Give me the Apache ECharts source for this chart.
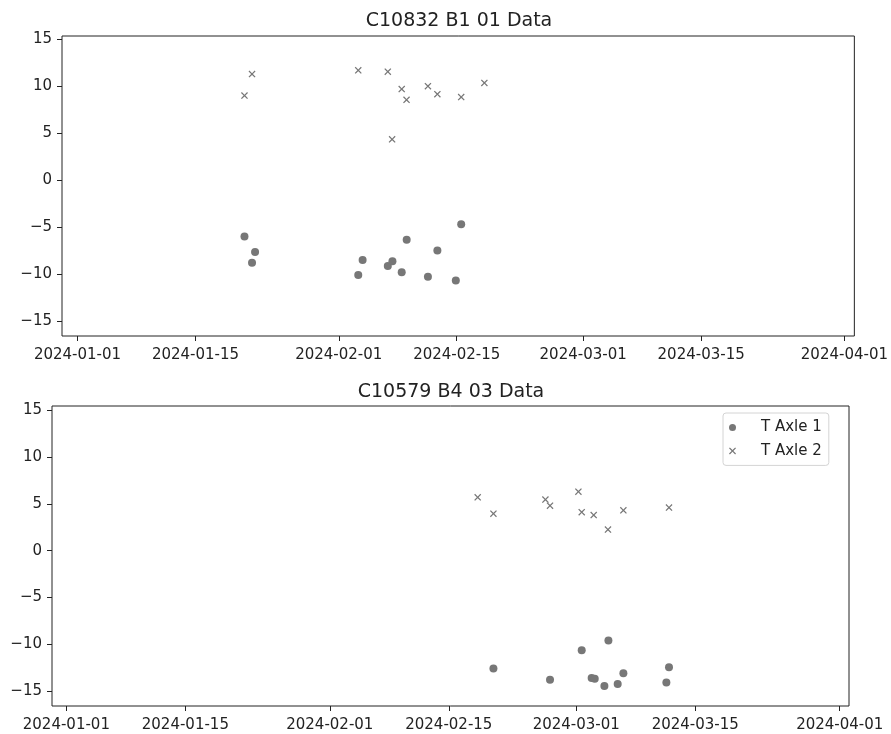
<!DOCTYPE html>
<html><head><meta charset="utf-8">
<script src="https://cdn.jsdelivr.net/npm/echarts@6/dist/echarts.min.js"></script>
<style>html,body{margin:0;padding:0;background:#fff}#c{width:891px;height:734px}</style>
</head><body><div id="c"></div>
<script>
// ---- data ----
const titles = ['C10832 B1 01 Data', 'C10579 B4 03 Data'];
const seriesNames = ['T Axle 1', 'T Axle 2'];
const xTickLabels = ['2024-01-01','2024-01-15','2024-02-01','2024-02-15','2024-03-01','2024-03-15','2024-04-01'];
const yTickValues = [-15, -10, -5, 0, 5, 10, 15];

const topAxle1Dates = ['2024-01-20T19:30','2024-01-21T17:00','2024-01-22T01:40','2024-02-03T07:30','2024-02-03T19:55','2024-02-06T19:40','2024-02-07T08:50','2024-02-08T11:15','2024-02-09T01:25','2024-02-11T13:55','2024-02-12T16:50','2024-02-14T21:20','2024-02-15T12:40'];
const topAxle1Values = [-6.0, -8.8, -7.65, -10.1, -8.5, -9.15, -8.65, -9.8, -6.35, -10.3, -7.5, -10.7, -4.7];
const topAxle2Dates = ['2024-01-20T19:30','2024-01-21T17:00','2024-02-03T07:30','2024-02-06T19:40','2024-02-07T07:55','2024-02-08T11:15','2024-02-09T01:00','2024-02-11T13:55','2024-02-12T16:50','2024-02-15T12:40','2024-02-18T06:40'];
const topAxle2Values = [9.0, 11.3, 11.7, 11.55, 4.35, 9.7, 8.55, 10.0, 9.15, 8.85, 10.35];

const botAxle1Dates = ['2024-02-20T06:00','2024-02-26T21:50','2024-03-01T15:20','2024-03-02T19:25','2024-03-03T04:05','2024-03-04T07:25','2024-03-04T18:45','2024-03-05T20:55','2024-03-06T13:00','2024-03-11T14:25','2024-03-11T21:50'];
const botAxle1Values = [-12.6, -13.8, -10.65, -13.6, -13.7, -14.45, -9.6, -14.25, -13.1, -14.1, -12.45];
const botAxle2Dates = ['2024-02-18T09:35','2024-02-20T06:00','2024-02-26T08:50','2024-02-26T21:50','2024-03-01T06:00','2024-03-01T15:20','2024-03-03T01:10','2024-03-04T17:30','2024-03-06T13:00','2024-03-11T21:50'];
const botAxle2Values = [5.7, 3.95, 5.45, 4.8, 6.3, 4.1, 3.8, 2.25, 4.3, 4.6];

// axis extents (days from 2024-01-01 for x, values for y)
const xExtentDays = [[-1.84, 92.18], [-1.69, 92.09]];
const yExtent = [[-16.6, 15.35], [-16.6, 15.45]];

// ---- helpers ----
function toMs(s) {
  const m = s.match(/(\d+)-(\d+)-(\d+)(?:T(\d+):(\d+))?/);
  return Date.UTC(+m[1], +m[2] - 1, +m[3], +(m[4] || 0), +(m[5] || 0));
}
const DAY = 86400000;
const base = toMs('2024-01-01');
const xTickMs = xTickLabels.map(toMs);
function pad(n) { return (n < 10 ? '0' : '') + n; }
function fmtDate(v) {
  const d = new Date(v);
  return d.getUTCFullYear() + '-' + pad(d.getUTCMonth() + 1) + '-' + pad(d.getUTCDate());
}
function fmtY(v) { return String(v).replace('-', '\u2212'); }
function zip(ds, vs) { return ds.map((d, i) => [toMs(d), vs[i]]); }

const CROSS = 'path://M1.25,0L5,3.75L8.75,0L10,1.25L6.25,5L10,8.75L8.75,10L5,6.25L1.25,10L0,8.75L3.75,5L0,1.25Z';
const MARK = '#777777';
const TXT = '#222222';
const FONT = 'DejaVu Sans';

const grids = [
  { left: 62, top: 36, width: 796, height: 300 },
  { left: 52, top: 406, width: 797, height: 300 }
];
const titleCenters = [[459, 12], [451, 383]];

const option = {
  animation: false,
  backgroundColor: '#ffffff',
  textStyle: { fontFamily: FONT },
  title: titles.map((t, i) => ({
    text: t, left: titleCenters[i][0], top: titleCenters[i][1], textAlign: 'center', padding: 0,
    textStyle: { fontSize: 19, fontWeight: 'normal', color: TXT, fontFamily: FONT }
  })),
  grid: grids.map(g => Object.assign({ show: true, borderColor: TXT, borderWidth: 1, backgroundColor: 'transparent', containLabel: false }, g)),
  xAxis: [0, 1].map(i => ({
    type: 'value', gridIndex: i,
    min: base + xExtentDays[i][0] * DAY, max: base + xExtentDays[i][1] * DAY,
    axisLine: { show: false, onZero: false }, splitLine: { show: false },
    axisTick: { show: true, length: 5, customValues: xTickMs, lineStyle: { color: TXT, width: 1 } },
    axisLabel: { customValues: xTickMs, formatter: fmtDate, margin: 12, fontSize: 15, color: TXT, fontFamily: FONT }
  })),
  yAxis: [0, 1].map(i => ({
    type: 'value', gridIndex: i, min: yExtent[i][0], max: yExtent[i][1],
    axisLine: { show: false, onZero: false }, splitLine: { show: false },
    axisTick: { show: true, length: 5, customValues: yTickValues, lineStyle: { color: TXT, width: 1 } },
    axisLabel: { customValues: yTickValues, formatter: fmtY, margin: 10, fontSize: 15, color: TXT, fontFamily: FONT }
  })),
  legend: {
    data: seriesNames, orient: 'vertical', left: 723, top: 413,
    padding: [7, 7, 7, 6], itemWidth: 28, itemHeight: 7, itemGap: 8.4,
    formatter: n => '\u00a0\u00a0' + n,
    textStyle: { fontSize: 15, color: TXT, fontFamily: FONT, lineHeight: 15 },
    borderColor: '#d4d4d4', borderWidth: 1, borderRadius: 3, backgroundColor: 'rgba(255,255,255,0.8)'
  },
  series: [
    { name: seriesNames[0], type: 'scatter', xAxisIndex: 0, yAxisIndex: 0, symbol: 'circle', symbolSize: 8, itemStyle: { color: MARK, opacity: 1 }, data: zip(topAxle1Dates, topAxle1Values) },
    { name: seriesNames[1], type: 'scatter', xAxisIndex: 0, yAxisIndex: 0, symbol: CROSS, symbolKeepAspect: true, symbolSize: 7, itemStyle: { color: MARK, opacity: 1 }, data: zip(topAxle2Dates, topAxle2Values) },
    { name: seriesNames[0], type: 'scatter', xAxisIndex: 1, yAxisIndex: 1, symbol: 'circle', symbolSize: 8, itemStyle: { color: MARK, opacity: 1 }, data: zip(botAxle1Dates, botAxle1Values) },
    { name: seriesNames[1], type: 'scatter', xAxisIndex: 1, yAxisIndex: 1, symbol: CROSS, symbolKeepAspect: true, symbolSize: 7, itemStyle: { color: MARK, opacity: 1 }, data: zip(botAxle2Dates, botAxle2Values) }
  ]
};
const chart = echarts.init(document.getElementById('c'), null, { renderer: 'canvas' });
chart.setOption(option);
</script>
</body></html>
